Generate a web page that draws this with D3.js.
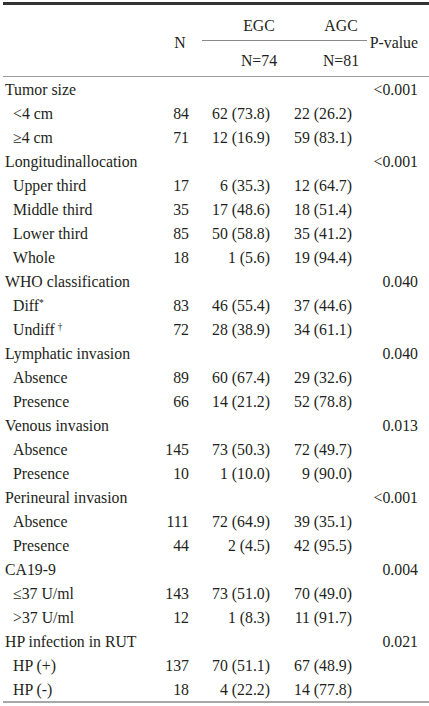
<!DOCTYPE html>
<html><head><meta charset="utf-8">
<script src="https://cdn.jsdelivr.net/npm/d3@7"></script>
<style>
html,body{margin:0;padding:0;background:#fff;}
svg{display:block;}
text{font-family:"Liberation Serif","DejaVu Serif",serif;font-size:15.8px;fill:#231f20;}
</style></head>
<body>
<script>
const labels = ["Tumor size","<4 cm","≥4 cm","Longitudinallocation","Upper third","Middle third","Lower third","Whole",
  "WHO classification","Diff","Undiff","Lymphatic invasion","Absence","Presence","Venous invasion","Absence","Presence",
  "Perineural invasion","Absence","Presence","CA19-9","≤37 U/ml",">37 U/ml","HP infection in RUT","HP (+)","HP (-)"];
const superscripts = ["","","","","","","","","","*","†","","","","","","","","","","","","","","",""];
const nValues = [null,84,71,null,17,35,85,18,null,83,72,null,89,66,null,145,10,null,111,44,null,143,12,null,137,18];
const egcCount = [null,62,12,null,6,17,50,1,null,46,28,null,60,14,null,73,1,null,72,2,null,73,1,null,70,4];
const egcPct = [null,"73.8","16.9",null,"35.3","48.6","58.8","5.6",null,"55.4","38.9",null,"67.4","21.2",null,"50.3","10.0",null,"64.9","4.5",null,"51.0","8.3",null,"51.1","22.2"];
const agcCount = [null,22,59,null,12,18,35,19,null,37,34,null,29,52,null,72,9,null,39,42,null,70,11,null,67,14];
const agcPct = [null,"26.2","83.1",null,"64.7","51.4","41.2","94.4",null,"44.6","61.1",null,"32.6","78.8",null,"49.7","90.0",null,"35.1","95.5",null,"49.0","91.7",null,"48.9","77.8"];
const pValues = ["<0.001","","","<0.001","","","","","0.040","","","0.040","","","0.013","","","<0.001","","","0.004","","","0.021","",""];
const groupNames = ["EGC","AGC"];
const groupN = ["N=74","N=81"];

const W = 429, H = 706;
const svg = d3.select("body").append("svg").attr("width", W).attr("height", H);

const rows = d3.range(labels.length);
const y = d3.scaleBand().domain(rows).range([77, 701]).padding(0);
const cx = {label:5, sub:13, n:189, egc:270, agc:352, p:418};
const grpCenter = d3.scalePoint().domain(groupNames).range([259, 341]);

// lines
svg.append("line").attr("x1",3).attr("x2",W).attr("y1",3.5).attr("y2",3.5).attr("stroke","#333").attr("stroke-width",3);
svg.append("line").attr("x1",202).attr("x2",367).attr("y1",40.5).attr("y2",40.5).attr("stroke","#8a8a8a").attr("stroke-width",1);
svg.append("line").attr("x1",3).attr("x2",W).attr("y1",76.5).attr("y2",76.5).attr("stroke","#9a9a9a").attr("stroke-width",1.2);
svg.append("line").attr("x1",3).attr("x2",W).attr("y1",702).attr("y2",702).attr("stroke","#8a8a8a").attr("stroke-width",1.5);

// header
svg.append("text").attr("x",180).attr("y",42).attr("dy","0.35em").attr("text-anchor","middle").text("N");
svg.append("text").attr("x",cx.p).attr("y",42).attr("dy","0.35em").attr("text-anchor","end").text("P-value");
svg.selectAll("text.grp").data(groupNames).join("text").attr("class","grp")
  .attr("x",d=>grpCenter(d)).attr("y",25).attr("dy","0.35em").attr("text-anchor","middle").text(d=>d);
svg.selectAll("text.grpn").data(groupN).join("text").attr("class","grpn")
  .attr("x",(d,i)=>grpCenter(groupNames[i])).attr("y",60).attr("dy","0.35em").attr("text-anchor","middle").text(d=>d);

const rowG = svg.selectAll("g.row").data(rows).join("g").attr("class","row")
  .attr("transform", i=>`translate(0,${y(i)+y.bandwidth()/2})`);

rowG.each(function(i){
  const g = d3.select(this);
  const isHead = nValues[i] === null;
  const t = g.append("text").attr("x", isHead?cx.label:cx.sub).attr("dy","0.35em").text(labels[i]);
  if (superscripts[i]) {
    t.append("tspan").attr("dx", superscripts[i]==="†"?3:0).attr("dy","-0.45em").style("font-size","9.5px").text(superscripts[i]);
  }
  if (!isHead) {
    g.append("text").attr("x",cx.n).attr("dy","0.35em").attr("text-anchor","end").text(nValues[i]);
    g.append("text").attr("x",cx.egc).attr("dy","0.35em").attr("text-anchor","end").text(`${egcCount[i]} (${egcPct[i]})`);
    g.append("text").attr("x",cx.agc).attr("dy","0.35em").attr("text-anchor","end").text(`${agcCount[i]} (${agcPct[i]})`);
  }
  if (pValues[i]) {
    g.append("text").attr("x",cx.p).attr("dy","0.35em").attr("text-anchor","end").text(pValues[i]);
  }
});
</script>
</body></html>
